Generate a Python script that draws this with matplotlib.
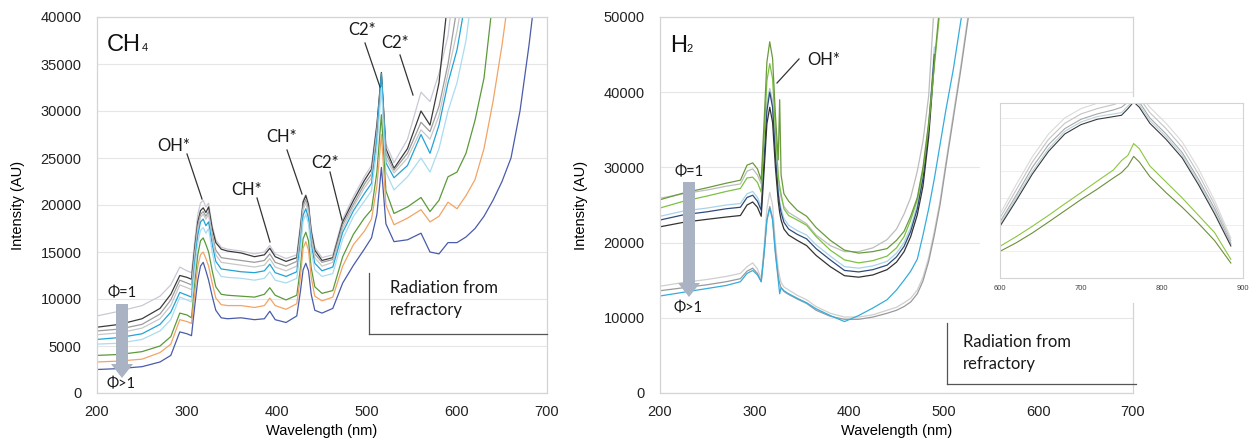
import numpy as np
import matplotlib
matplotlib.use("Agg")
import matplotlib.pyplot as plt
from matplotlib.lines import Line2D
from matplotlib.patches import FancyArrow, Rectangle

nan = np.nan
W, H = 1252, 445

# ---------------- data: CH4 panel ----------------
wl_ch4 = [200, 225, 250, 270, 282, 292, 300, 305,
          309, 312, 315, 318, 321, 324, 328, 332, 338, 345,
          360, 375, 386, 392, 398, 410,
          422, 426, 429, 432, 435, 438, 442, 450,
          462, 473, 485, 497, 505, 511, 516, 521, 530, 545, 560, 570, 580, 590, 600, 610, 620, 630, 640,
          650, 660, 670, 680, 690]
ch4_s1 = [8200, 8700, 9300, 10300, 11500, 13400, 13000, 12800,
          16500, 19000, 20200, 20500, 19800, 20200, 17800, 16300, 15500, 15300,
          15100, 14800, 15000, 15700, 14800, 14300,
          14700, 18000, 20500, 21100, 20200, 17500, 15500, 14400,
          14700, 18500, 20900, 23000, 24200, 28700, 33800, 26500, 24500, 27000, 32000, 31000, 34000, 38000,
          46000, nan, nan, nan, nan, nan, nan, nan, nan, nan]
ch4_s2 = [7000, 7300, 7900, 9000, 10500, 12500, 12300, 12100,
          15800, 18200, 19400, 19700, 19200, 19800, 17500, 16000, 15300, 15100,
          14900, 14500, 14700, 15400, 14500, 14000,
          14400, 17500, 20300, 21000, 20000, 17200, 15200, 14100,
          14400, 18200, 20500, 22600, 23800, 28500, 34100, 26000, 23900, 26000, 30000, 28500, 33000, 42000,
          nan, nan, nan, nan, nan, nan, nan, nan, nan, nan]
ch4_s3 = [6600, 6800, 7300, 8400, 9900, 12000, 11700, 11500,
          15300, 17800, 19000, 19300, 18800, 19300, 16900, 15200, 14400, 14300,
          14100, 13900, 14100, 14800, 13900, 13500,
          14000, 17100, 19900, 20600, 19600, 16800, 14800, 13900,
          14200, 17900, 20100, 22200, 23300, 28000, 33500, 25500, 23700, 25500, 28800, 27800, 30500, 35000,
          41000, nan, nan, nan, nan, nan, nan, nan, nan, nan]
ch4_s4 = [6200, 6400, 6900, 7900, 9300, 11500, 11200, 11000,
          14900, 17400, 18700, 19000, 18500, 19000, 16500, 14700, 13900, 13800,
          13600, 13400, 13600, 14300, 13400, 13000,
          13500, 16600, 19500, 20200, 19200, 16400, 14400, 13500,
          13900, 17500, 19800, 21800, 22900, 27500, 33000, 25000, 23400, 25000, 28000, 27000, 29500, 34000,
          38500, 44000, nan, nan, nan, nan, nan, nan, nan, nan]
ch4_s5 = [5700, 5900, 6300, 7300, 8600, 10700, 10400, 10200,
          14200, 16800, 18200, 18500, 17800, 18200, 15800, 14000, 13200, 13100,
          12900, 12800, 13000, 13700, 12800, 12400,
          12900, 16000, 18900, 19600, 18600, 15800, 13800, 13000,
          13400, 17100, 19400, 21200, 22300, 27000, 34000, 24500, 22900, 24200, 27500, 25500, 28500, 33000,
          36500, 42000, nan, nan, nan, nan, nan, nan, nan, nan]
ch4_s6 = [5200, 5300, 5700, 6600, 7800, 10200, 9900, 9700,
          13500, 16000, 17300, 17600, 17000, 17500, 15000, 13200, 12400, 12300,
          12200, 12000, 12200, 12900, 12000, 11700,
          12200, 15200, 18300, 19000, 18000, 15100, 13100, 12400,
          12700, 16400, 18800, 20400, 21500, 26000, 32500, 23500, 21600, 23000, 25000, 23500, 26000, 30000,
          33000, 37500, 45000, nan, nan, nan, nan, nan, nan, nan]
ch4_s7 = [4000, 4100, 4400, 5000, 6000, 8500, 8300, 8000,
          12000, 14700, 16200, 16500, 15800, 15000, 13000, 11300, 10500, 10400,
          10300, 10200, 10500, 11200, 10400, 9900,
          10400, 13300, 16400, 17100, 16200, 13300, 11300, 10600,
          10900, 14500, 16900, 18600, 19500, 23500, 29600, 21500, 19100, 19800, 20800, 19300, 20500, 23000,
          23500, 25500, 29000, 33500, 42000, nan, nan, nan, nan, nan]
ch4_s8 = [3300, 3400, 3600, 4300, 5200, 7800, 7600, 7400,
          11000, 13500, 14700, 15000, 14300, 13500, 11700, 10100, 9400, 9300,
          9300, 9100, 9300, 10100, 9300, 8900,
          9500, 12300, 15400, 16100, 15200, 12300, 10300, 9800,
          10200, 13500, 15800, 17200, 18500, 22000, 27500, 20000, 17900, 18600, 19500, 18200, 18800, 20300,
          19600, 21000, 22700, 26000, 31000, 37000, 44000, nan, nan, nan]
ch4_s9 = [2500, 2600, 2800, 3300, 4000, 6500, 6300, 6100,
          9600, 12000, 13500, 13900, 13000, 12000, 10300, 8800, 8000, 7900,
          8000, 7800, 7900, 8700, 7800, 7500,
          8200, 10800, 13100, 13800, 13000, 10500, 8800, 8500,
          9000, 11700, 13600, 15300, 16500, 19000, 24000, 18000, 16100, 16300, 17000, 15000, 14800, 16000,
          16000, 16600, 17500, 18800, 20500, 22500, 25000, 30000, 37000, 45000]
ch4_series = [ch4_s1, ch4_s2, ch4_s3, ch4_s4, ch4_s5, ch4_s6, ch4_s7, ch4_s8, ch4_s9]
ch4_colors = ["#c9c9d6", "#3a3a3a", "#9c9c9c", "#c8c8c8", "#22a3d5", "#a9dcf0", "#5b9a3a", "#f2a465", "#4a5bab"]

# ---------------- data: H2 panel ----------------
wl_h2 = [200, 225, 250, 270, 285, 292, 298, 303, 307, 310, 313, 316, 319, 322, 325, 326.5, 328, 331, 336, 345,
         355, 365, 380, 395, 410, 425, 440, 450, 458, 465, 472, 478, 484, 490, 496, 502, 510, 518, 526, 535]
h2_olive = [25700, 26600, 27300, 27900, 28300, 30300, 30600, 29800, 28300, 36000,
            44000, 46700, 44500, 37000, 31000, 39000, 29000, 26500, 25500, 24300,
            23500, 22000, 20300, 19000, 18600, 18800, 19200, 20300, 21500, 23500,
            26000, 30000, 36000, 44000, 52000, nan, nan, nan, nan, nan]
h2_lime = [24600, 25500, 26200, 26800, 27200, 28600, 28700, 28000, 26700, 34000,
           41500, 43800, 41800, 35000, 29000, 27500, 26500, 24500, 23600, 23000,
           22300, 20800, 19000, 17700, 17300, 17600, 18200, 19300, 20800, 23000,
           25700, 29500, 35500, 43500, 51000, nan, nan, nan, nan, nan]
h2_gray_up = [25900, 26500, 27000, 27500, 27800, 29500, 29800, 29000, 27800, 33500,
              38500, 40500, 38800, 33500, 28500, 27000, 26000, 24800, 24000, 23300,
              22500, 21000, 19600, 18800, 18800, 19300, 20400, 21800, 23800, 26000,
              29500, 33500, 39500, 52000, nan, nan, nan, nan, nan, nan]
h2_lightblue = [23500, 24200, 24600, 25000, 25200, 26500, 26800, 26000, 24800, 31500,
                38000, 40300, 38300, 32000, 27000, 25500, 24600, 23200, 22300, 21600,
                21000, 19700, 18200, 16800, 16600, 16900, 17500, 18600, 20000, 22000,
                25000, 29000, 35500, 46000, nan, nan, nan, nan, nan, nan]
h2_navy = [23000, 23700, 24100, 24500, 24700, 26000, 26300, 25500, 24300, 31000,
           37500, 40000, 38000, 31500, 26500, 25000, 24000, 22700, 21800, 21100,
           20500, 19200, 17700, 16300, 16100, 16400, 17000, 18100, 19500, 21500,
           24500, 28500, 35000, 45000, nan, nan, nan, nan, nan, nan]
h2_black = [22100, 22700, 23100, 23400, 23600, 25000, 25400, 24700, 23500, 29500,
            35800, 38000, 36000, 30000, 25500, 24000, 23000, 21800, 21000, 20300,
            19600, 18300, 16800, 15600, 15400, 15700, 16400, 17400, 18800, 20800,
            23700, 27500, 34000, 44000, nan, nan, nan, nan, nan, nan]
h2_gray_lo = [14200, 14700, 15100, 15500, 15900, 16800, 17300, 16500, 15200, 19500,
              24500, 26700, 25000, 20000, 16500, 15500, 14700, 14100, 13700, 13000,
              12400, 11500, 10600, 10100, 10100, 10400, 11000, 11400, 12000, 12600,
              13700, 15400, 18000, 21500, 25500, 30500, 37000, 43500, 50500, nan]
h2_midgray_lo = [13600, 14000, 14400, 14800, 15200, 16200, 16600, 15900, 14800, 18500,
                 23000, 24800, 23300, 18800, 15500, 14600, 14000, 13500, 13100, 12500,
                 11900, 11000, 10200, 9800, 9800, 10100, 10600, 11000, 11500, 12100,
                 13200, 14900, 17500, 21000, 25000, 30000, 36500, 43000, 50000, nan]
h2_cyan = [12900, 13400, 13900, 14300, 14800, 15900, 16300, 15700, 14800, 18500,
           23000, 24600, 23000, 18500, 15000, 13200, 14000, 13600, 13200, 12600,
           12000, 11200, 10300, 9500, 10300, 11300, 12400, 13700, 15000, 16200,
           17800, 21000, 24500, 28500, 33000, 37500, 43000, 49500, 55000, nan]
h2_series = [h2_gray_lo, h2_midgray_lo, h2_cyan, h2_gray_up, h2_lightblue, h2_navy, h2_black, h2_lime, h2_olive]
h2_colors = ["#cfcfcf", "#9a9a9a", "#35acdc", "#bdbdbd", "#a8d3ea", "#2f4b7c", "#333333", "#7cc242", "#6a9a3c"]

# ---------------- data: inset ----------------
wl_inset = [600, 620, 640, 660, 680, 700, 720, 740, 750, 758, 765, 772, 785, 805, 825, 845, 865, 885]
inset_gray3 = [24, 35, 45.5, 54, 60, 63.5, 65.5, 67, 67.5, 68, 69, 69, 64, 58, 51, 41, 29, 15]
inset_gray2 = [22.5, 33, 43.5, 52, 58, 61.5, 63.5, 65, 66, 67, 68, 67.5, 62, 56, 49, 39, 27.5, 14]
inset_gray1 = [21, 31, 41.5, 50, 56, 59.5, 61.5, 63, 64, 66, 67, 66, 60, 54, 47, 37, 26, 13]
inset_lblue = [20, 30, 40, 48.5, 55, 58.5, 60.5, 61.5, 62, 64.5, 66.5, 65, 59, 53, 46, 36, 25, 12.5]
inset_black = [19.4, 29, 39, 47.5, 54, 57.5, 59.5, 60.5, 61, 63.5, 66, 64, 58, 52, 45, 35, 24, 12]
inset_lime = [11.9, 15.5, 19.4, 23.5, 27.8, 32, 36.3, 40.5, 44, 46, 50.4, 48.5, 42, 36, 30, 23.5, 17, 7]
inset_olive = [10, 13.2, 16.9, 21, 25.2, 29.4, 33.3, 37.5, 39.5, 42, 45.6, 43.5, 38, 32, 26.5, 20.5, 14, 5.6]
inset_series = [inset_gray3, inset_gray2, inset_gray1, inset_lblue, inset_black, inset_lime, inset_olive]
inset_colors = ["#dadada", "#c4c4c4", "#a8a8a8", "#b9d3de", "#3a3a3a", "#8cc63f", "#6b8f3a"]

ch4_yticks = [0, 5000, 10000, 15000, 20000, 25000, 30000, 35000, 40000]
h2_yticks = [0, 10000, 20000, 30000, 40000, 50000]
x_ticks = [200, 300, 400, 500, 600, 700]
inset_xticks = [600, 700, 800, 900]

# ---------------- figure ----------------
plt.rcParams['font.family'] = ['Liberation Sans', 'DejaVu Sans']
fig = plt.figure(figsize=(W / 100, H / 100), dpi=100)


def fx(x):
    return x / W


def fy(y):
    return 1 - y / H


def style_axes(ax, yticks, ymax):
    ax.set_xlim(200, 700)
    ax.set_ylim(0, ymax)
    ax.set_xticks(x_ticks)
    ax.set_yticks(yticks)
    ax.tick_params(length=0, labelsize=10.5, colors="#222222")
    ax.tick_params(axis='y', pad=11)
    ax.tick_params(axis='x', pad=9)
    ax.grid(axis='y', color="#e6e6e6", lw=0.8)
    ax.set_axisbelow(True)
    for s in ax.spines.values():
        s.set_color("#d4d4d4")
        s.set_linewidth(0.9)
    ax.set_xlabel("Wavelength (nm)", fontsize=10.5, labelpad=3)
    ax.set_ylabel("Intensity (AU)", fontsize=10.5, labelpad=11)


axL = fig.add_axes([fx(97), fy(393), fx(547) - fx(97), fy(17) - fy(393)])
axR = fig.add_axes([fx(660), fy(393), fx(1133) - fx(660), fy(17) - fy(393)])

xL = np.array(wl_ch4, dtype=float)
for ser, c in zip(ch4_series, ch4_colors):
    axL.plot(xL, np.array(ser, dtype=float), color=c, lw=0.9)
style_axes(axL, ch4_yticks, 40000)

xR = np.array(wl_h2, dtype=float)
for ser, c in zip(h2_series, h2_colors):
    axR.plot(xR, np.array(ser, dtype=float), color=c, lw=0.9)
style_axes(axR, h2_yticks, 50000)

ann_font = ['Lato', 'DejaVu Sans']


def ftext(x, y, s, size, ha='center', va='center', family=None, color="#1a1a1a"):
    fig.text(fx(x), fy(y), s, fontsize=size, ha=ha, va=va, family=family or ann_font, color=color)


def fline(x0, y0, x1, y1, color="#333333", lw=0.9):
    fig.add_artist(Line2D([fx(x0), fx(x1)], [fy(y0), fy(y1)], transform=fig.transFigure, color=color, lw=lw))


# panel titles
fig.text(fx(107), fy(51), "CH", fontsize=17, ha='left', va='baseline', family=['Liberation Sans'], color="#111111")
fig.text(fx(142), fy(51), "4", fontsize=8, ha='left', va='baseline', family=['Liberation Sans'], color="#111111")
fig.text(fx(670), fy(52), "H", fontsize=17, ha='left', va='baseline', family=['Liberation Sans'], color="#111111")
fig.text(fx(686), fy(52), "2", fontsize=8, ha='left', va='baseline', family=['Liberation Sans'], color="#111111")

# species labels - CH4
ftext(174, 146, "OH*", 12)
fline(187, 154, 202, 199)
ftext(247, 190, "CH*", 12)
fline(257, 198, 270, 242)
ftext(282, 137, "CH*", 12)
fline(287, 150, 302, 194)
ftext(325, 163, "C2*", 12)
fline(330, 172, 342, 220)
ftext(362, 30, "C2*", 12)
fline(365, 43, 380, 87)
ftext(395, 43, "C2*", 12)
fline(400, 55, 413, 95)

# species label - H2
ftext(824, 60, "OH*", 12)
fline(799, 59, 777, 83)

# phi arrows
arrow_color = "#a9b3c4"
for (xc, ytop, ytip, ylab_top, ylab_bot) in [(122, 304, 378, 293, 384), (689, 182, 297, 172, 308)]:
    hl = 14
    fig.add_artist(FancyArrow(fx(xc), fy(ytop), 0, fy(ytip) - fy(ytop), width=12 / W, head_width=22 / W,
                              head_length=hl / H, length_includes_head=True, transform=fig.transFigure,
                              color=arrow_color, lw=0))
    ftext(xc, ylab_top, "Φ=1", 10.5)
    ftext(xc - 1, ylab_bot, "Φ>1", 10.5)

# radiation brackets
ftext(390, 288, "Radiation from", 12, ha='left')
ftext(390, 310, "refractory", 12, ha='left')
fline(369, 273, 369, 334, color="#555555")
fline(369, 334, 547, 334, color="#555555")
ftext(963, 342, "Radiation from", 12, ha='left')
ftext(963, 364, "refractory", 12, ha='left')
fline(947, 323, 947, 384, color="#555555")
fline(947, 384, 1136, 384, color="#555555")

# inset: white backing then axes
fig.add_artist(Rectangle((fx(980), fy(303)), fx(1250) - fx(980), fy(97) - fy(303), transform=fig.transFigure,
                         facecolor="white", edgecolor="none", zorder=5))
axI = fig.add_axes([fx(1000), fy(278), fx(1243) - fx(1000), fy(103) - fy(278)], zorder=6)
xI = np.array(wl_inset, dtype=float)
for ser, c in zip(inset_series, inset_colors):
    axI.plot(xI, np.array(ser, dtype=float), color=c, lw=0.8)
axI.set_xlim(600, 900)
axI.set_ylim(0, 65.6)
axI.set_xticks(inset_xticks)
axI.set_yticks([10, 20, 30, 40, 50, 60])
axI.set_yticklabels([])
axI.tick_params(length=0, labelsize=5.5, colors="#444444", pad=5)
axI.grid(axis='y', color="#eeeeee", lw=0.7)
axI.set_axisbelow(True)
for s in axI.spines.values():
    s.set_color("#d4d4d4")
    s.set_linewidth(0.8)

fig.savefig("out.png", dpi=100)
